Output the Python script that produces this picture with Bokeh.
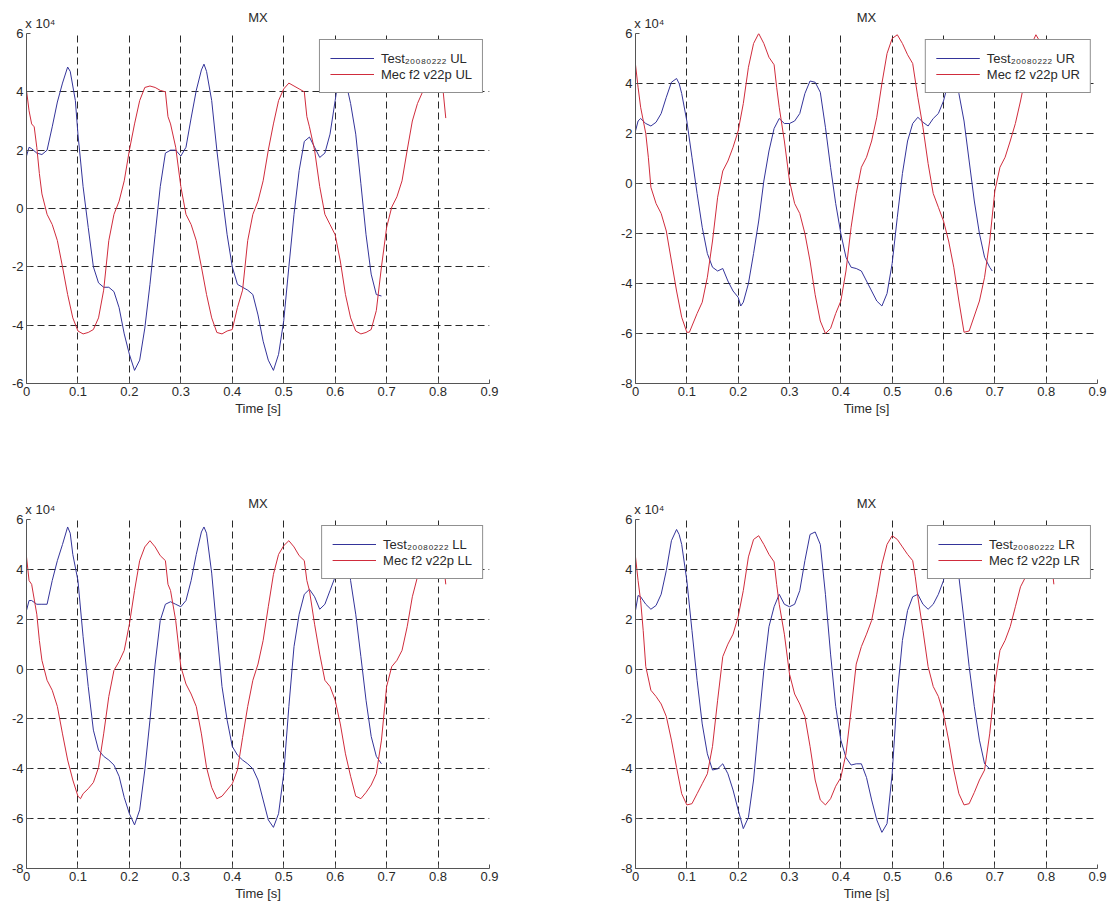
from bokeh.plotting import figure
from bokeh.models import Range1d, FixedTicker, LinearAxis
from bokeh.layouts import column, row
from bokeh.embed import file_html
from bokeh.resources import INLINE

FONT = "Liberation Sans"

# ---- tick values / labels ----
x_ticks = [0, 0.1, 0.2, 0.3, 0.4, 0.5, 0.6, 0.7, 0.8, 0.9]
x_tick_labels = ["0", "0.1", "0.2", "0.3", "0.4", "0.5", "0.6", "0.7", "0.8", "0.9"]
y_ticks_a = [-6, -4, -2, 0, 2, 4, 6]
y_ticks_b = [-8, -6, -4, -2, 0, 2, 4, 6]
title_text = "MX"
scale_text = "x 10\u2074"
x_label = "Time [s]"

# ---- data (values in units of 10^4) ----
# Upper left
ul_test_t = [0, 0.005, 0.01, 0.02, 0.03, 0.04, 0.05, 0.06, 0.07, 0.08,
             0.085, 0.095, 0.1, 0.11, 0.12, 0.13, 0.14, 0.15, 0.16, 0.17,
             0.18, 0.19, 0.2, 0.21, 0.22, 0.23, 0.24, 0.25, 0.26, 0.27,
             0.28, 0.29, 0.3, 0.31, 0.32, 0.33, 0.34, 0.345, 0.35, 0.36,
             0.37, 0.38, 0.39, 0.4, 0.41, 0.42, 0.43, 0.44, 0.45, 0.46,
             0.47, 0.48, 0.49, 0.5, 0.51, 0.52, 0.53, 0.54, 0.55, 0.56,
             0.57, 0.58, 0.59, 0.6, 0.605, 0.61, 0.618, 0.625, 0.63, 0.64,
             0.65, 0.66, 0.67, 0.68, 0.69]
ul_test_v = [1.8, 2.1, 2.05, 1.9, 1.85, 2.0, 2.8, 3.65, 4.3, 4.85,
             4.7, 3.7, 2.55, 0.75, -0.65, -2.0, -2.55, -2.7, -2.7, -2.85,
             -3.4, -4.3, -5.0, -5.55, -5.2, -4.1, -2.6, -0.9, 0.75, 1.9,
             2.0, 2.0, 1.8, 2.1, 3.1, 4.05, 4.75, 4.95, 4.7, 3.7,
             2.0, 0.5, -0.9, -2.0, -2.6, -2.7, -2.8, -2.95, -3.65, -4.55,
             -5.2, -5.55, -5.0, -3.85, -2.0, -0.2, 1.3, 2.3, 2.45, 2.1,
             1.75, 1.9, 2.55, 3.7, 4.3, 4.85, 4.6, 4.0, 3.6, 2.55,
             0.85, -0.9, -2.25, -2.95, -3.0]
ul_mec_t = [0, 0.005, 0.01, 0.015, 0.02, 0.025, 0.03, 0.04, 0.05, 0.06,
            0.07, 0.08, 0.09, 0.1, 0.11, 0.12, 0.13, 0.14, 0.15, 0.16,
            0.17, 0.18, 0.19, 0.2, 0.21, 0.22, 0.23, 0.24, 0.25, 0.26,
            0.27, 0.275, 0.28, 0.29, 0.3, 0.31, 0.32, 0.33, 0.34, 0.35,
            0.36, 0.37, 0.38, 0.39, 0.4, 0.41, 0.42, 0.43, 0.44, 0.45,
            0.46, 0.47, 0.48, 0.49, 0.5, 0.51, 0.52, 0.53, 0.54, 0.545,
            0.55, 0.56, 0.57, 0.58, 0.59, 0.6, 0.61, 0.62, 0.63, 0.64,
            0.65, 0.66, 0.67, 0.68, 0.69, 0.7, 0.71, 0.72, 0.73, 0.74,
            0.75, 0.76, 0.77, 0.78, 0.79, 0.8, 0.81, 0.815]
ul_mec_v = [4.05, 3.35, 2.9, 2.8, 2.1, 1.2, 0.5, -0.2, -0.55, -1.1,
            -2.0, -2.95, -3.75, -4.2, -4.3, -4.25, -4.15, -3.75, -2.8, -1.1,
            -0.2, 0.25, 0.95, 2.0, 2.9, 3.7, 4.15, 4.2, 4.15, 4.05,
            4.0, 3.15, 2.9, 2.1, 0.75, -0.2, -0.55, -1.1, -2.0, -2.95,
            -3.75, -4.25, -4.3, -4.2, -4.15, -3.4, -2.8, -1.1, -0.2, 0.25,
            0.95, 2.0, 2.9, 3.7, 4.1, 4.3, 4.2, 4.1, 4.0, 3.15,
            2.8, 2.0, 0.75, -0.2, -0.55, -0.9, -1.8, -2.95, -3.75, -4.2,
            -4.3, -4.25, -4.15, -3.5, -2.0, -0.65, 0.05, 0.4, 0.95, 2.0,
            3.0, 3.6, 4.0, 4.2, 4.2, 4.1, 4.0, 3.1]

# Upper right
ur_test_t = [0, 0.005, 0.01, 0.02, 0.03, 0.04, 0.05, 0.06, 0.07, 0.08,
             0.085, 0.09, 0.1, 0.11, 0.12, 0.13, 0.14, 0.15, 0.16, 0.17,
             0.18, 0.19, 0.2, 0.205, 0.21, 0.22, 0.23, 0.24, 0.25, 0.26,
             0.27, 0.28, 0.29, 0.3, 0.31, 0.32, 0.33, 0.34, 0.35, 0.36,
             0.37, 0.38, 0.39, 0.4, 0.41, 0.42, 0.43, 0.44, 0.45, 0.46,
             0.47, 0.48, 0.49, 0.5, 0.51, 0.52, 0.53, 0.54, 0.55, 0.56,
             0.57, 0.58, 0.59, 0.6, 0.605, 0.612, 0.62, 0.625, 0.63, 0.64,
             0.65, 0.66, 0.67, 0.68, 0.69, 0.695]
ur_test_v = [2.1, 2.5, 2.6, 2.4, 2.3, 2.45, 2.8, 3.45, 4.05, 4.2,
             4.0, 3.6, 2.5, 1.05, -0.4, -1.75, -2.8, -3.35, -3.5, -3.4,
             -3.9, -4.3, -4.55, -4.9, -4.75, -4.0, -2.8, -1.5, 0.1, 1.3,
             2.2, 2.6, 2.4, 2.4, 2.5, 2.8, 3.6, 4.1, 4.05, 3.65,
             2.25, 0.65, -0.8, -2.0, -2.95, -3.35, -3.4, -3.5, -3.9, -4.3,
             -4.7, -4.9, -4.4, -3.2, -1.35, 0.4, 1.7, 2.4, 2.65, 2.45,
             2.3, 2.6, 2.8, 3.3, 3.7, 4.05, 4.1, 3.9, 3.6, 2.5,
             0.9, -0.7, -2.0, -2.95, -3.35, -3.5]
ur_mec_t = [0, 0.005, 0.01, 0.02, 0.025, 0.03, 0.04, 0.05, 0.06, 0.07,
            0.08, 0.09, 0.1, 0.105, 0.11, 0.12, 0.13, 0.14, 0.15, 0.16,
            0.17, 0.18, 0.19, 0.2, 0.21, 0.22, 0.23, 0.24, 0.25, 0.26,
            0.27, 0.275, 0.28, 0.29, 0.3, 0.31, 0.32, 0.33, 0.34, 0.35,
            0.36, 0.37, 0.38, 0.39, 0.4, 0.41, 0.42, 0.43, 0.44, 0.45,
            0.46, 0.47, 0.48, 0.49, 0.5, 0.51, 0.52, 0.53, 0.54, 0.55,
            0.56, 0.57, 0.58, 0.59, 0.6, 0.61, 0.62, 0.63, 0.64, 0.65,
            0.66, 0.67, 0.68, 0.69, 0.7, 0.71, 0.72, 0.73, 0.74, 0.75,
            0.76, 0.77, 0.78, 0.79, 0.8, 0.81, 0.815]
ur_mec_v = [4.75, 3.85, 3.05, 2.0, 1.05, -0.15, -0.8, -1.2, -1.9, -3.1,
            -4.3, -5.35, -5.95, -5.95, -5.7, -5.2, -4.75, -3.75, -2.3, -0.55,
            0.5, 0.9, 1.45, 2.1, 3.2, 4.65, 5.6, 6.0, 5.6, 5.05,
            4.75, 3.85, 3.05, 1.7, 0.1, -0.8, -1.2, -2.0, -3.1, -4.45,
            -5.5, -6.0, -5.8, -5.2, -4.7, -3.5, -1.75, -0.4, 0.65, 1.05,
            1.7, 2.65, 4.0, 5.2, 5.8, 5.95, 5.6, 5.15, 4.8, 3.45,
            2.25, 0.8, -0.4, -0.95, -1.5, -2.3, -3.35, -4.7, -5.95, -5.9,
            -5.3, -4.7, -3.75, -2.3, -0.3, 0.65, 1.05, 1.7, 2.4, 3.3,
            4.3, 5.5, 5.95, 5.6, 5.05, 4.75, 3.85]

# Lower left
ll_test_t = [0, 0.005, 0.01, 0.02, 0.03, 0.04, 0.05, 0.06, 0.07, 0.08,
             0.085, 0.09, 0.1, 0.11, 0.12, 0.13, 0.14, 0.15, 0.16, 0.17,
             0.18, 0.19, 0.2, 0.21, 0.22, 0.23, 0.24, 0.25, 0.26, 0.27,
             0.28, 0.29, 0.3, 0.31, 0.32, 0.33, 0.34, 0.345, 0.35, 0.36,
             0.37, 0.38, 0.39, 0.4, 0.41, 0.42, 0.43, 0.44, 0.45, 0.46,
             0.47, 0.48, 0.49, 0.5, 0.51, 0.52, 0.53, 0.54, 0.55, 0.56,
             0.57, 0.58, 0.59, 0.6, 0.607, 0.614, 0.62, 0.63, 0.64, 0.65,
             0.66, 0.67, 0.68, 0.69]
ll_test_v = [2.35, 2.75, 2.75, 2.6, 2.6, 2.6, 3.55, 4.35, 5.0, 5.7,
             5.45, 4.6, 3.55, 1.3, -0.7, -2.45, -3.25, -3.5, -3.65, -3.85,
             -4.3, -5.15, -5.8, -6.25, -5.65, -4.05, -2.05, 0.2, 1.95, 2.6,
             2.7, 2.6, 2.5, 2.75, 3.55, 4.6, 5.5, 5.7, 5.45, 3.85,
             1.55, -0.7, -2.05, -3.1, -3.45, -3.65, -3.8, -4.0, -4.45, -5.25,
             -6.05, -6.35, -5.8, -4.2, -1.5, 0.9, 2.2, 3.0, 3.2, 2.9,
             2.4, 2.6, 3.15, 3.7, 4.8, 5.6, 5.3, 3.55, 2.2, 0.5,
             -1.25, -2.7, -3.5, -3.8]
ll_mec_t = [0, 0.005, 0.01, 0.02, 0.025, 0.03, 0.04, 0.05, 0.06, 0.07,
            0.08, 0.09, 0.1, 0.105, 0.11, 0.12, 0.13, 0.14, 0.15, 0.16,
            0.17, 0.18, 0.19, 0.2, 0.21, 0.22, 0.23, 0.24, 0.25, 0.26,
            0.27, 0.275, 0.28, 0.29, 0.3, 0.31, 0.32, 0.33, 0.34, 0.35,
            0.36, 0.37, 0.38, 0.39, 0.4, 0.41, 0.42, 0.43, 0.44, 0.45,
            0.46, 0.47, 0.48, 0.49, 0.5, 0.51, 0.52, 0.53, 0.54, 0.545,
            0.55, 0.56, 0.57, 0.58, 0.59, 0.6, 0.61, 0.62, 0.63, 0.64,
            0.65, 0.66, 0.67, 0.68, 0.69, 0.7, 0.71, 0.72, 0.73, 0.74,
            0.75, 0.76, 0.77, 0.78, 0.79, 0.8, 0.81, 0.815]
ll_mec_v = [4.5, 3.55, 3.4, 2.2, 1.15, 0.35, -0.45, -0.85, -1.5, -2.6,
            -3.65, -4.45, -5.1, -5.2, -5.0, -4.8, -4.55, -3.95, -2.6, -1.1,
            -0.05, 0.3, 0.75, 1.8, 3.15, 4.35, 4.9, 5.15, 4.9, 4.55,
            4.35, 3.4, 3.15, 1.95, 0.1, -0.6, -1.0, -1.5, -2.6, -3.95,
            -4.75, -5.2, -5.1, -4.85, -4.6, -4.05, -2.75, -1.5, -0.45, 0.2,
            1.15, 2.5, 3.8, 4.6, 4.95, 5.15, 4.9, 4.55, 4.35, 3.55,
            3.15, 1.8, 0.6, -0.45, -0.7, -1.25, -2.2, -3.4, -4.3, -5.1,
            -5.2, -4.95, -4.65, -4.2, -2.85, -0.7, 0.1, 0.35, 0.75, 1.7,
            2.9, 3.7, 4.5, 5.0, 5.1, 4.85, 4.4, 3.4]

# Lower right
lr_test_t = [0, 0.005, 0.01, 0.02, 0.03, 0.04, 0.05, 0.06, 0.07, 0.08,
             0.085, 0.09, 0.1, 0.11, 0.12, 0.13, 0.14, 0.15, 0.16, 0.17,
             0.18, 0.19, 0.2, 0.21, 0.22, 0.23, 0.24, 0.25, 0.26, 0.27,
             0.28, 0.29, 0.3, 0.31, 0.32, 0.33, 0.34, 0.35, 0.36, 0.37,
             0.38, 0.39, 0.4, 0.41, 0.42, 0.43, 0.44, 0.45, 0.46, 0.47,
             0.48, 0.49, 0.5, 0.51, 0.52, 0.53, 0.54, 0.55, 0.56, 0.57,
             0.58, 0.59, 0.6, 0.61, 0.615, 0.62, 0.63, 0.64, 0.65, 0.66,
             0.67, 0.68, 0.69]
lr_test_v = [2.35, 2.95, 2.9, 2.6, 2.4, 2.55, 3.0, 3.95, 5.15, 5.6,
             5.4, 5.0, 3.55, 1.55, -0.45, -2.2, -3.4, -4.05, -4.0, -3.8,
             -4.2, -4.85, -5.65, -6.4, -5.95, -4.45, -2.2, -0.05, 1.7, 2.5,
             3.0, 2.6, 2.5, 2.6, 3.15, 4.35, 5.4, 5.5, 5.0, 3.0,
             0.6, -1.5, -2.85, -3.55, -3.85, -3.8, -3.8, -4.35, -5.25, -6.05,
             -6.55, -6.2, -4.2, -1.0, 1.15, 2.35, 2.9, 3.0, 2.6, 2.4,
             2.6, 3.0, 3.55, 5.0, 5.5, 5.2, 3.7, 1.95, 0.1, -1.5,
             -2.85, -3.8, -4.0]
lr_mec_t = [0, 0.005, 0.01, 0.015, 0.02, 0.03, 0.04, 0.05, 0.06, 0.07,
            0.08, 0.09, 0.1, 0.11, 0.12, 0.13, 0.14, 0.15, 0.16, 0.17,
            0.18, 0.19, 0.2, 0.21, 0.22, 0.23, 0.24, 0.25, 0.26, 0.27,
            0.275, 0.28, 0.29, 0.3, 0.31, 0.32, 0.33, 0.34, 0.35, 0.36,
            0.37, 0.38, 0.39, 0.4, 0.41, 0.42, 0.43, 0.44, 0.45, 0.46,
            0.47, 0.48, 0.49, 0.5, 0.51, 0.52, 0.53, 0.54, 0.545, 0.55,
            0.56, 0.57, 0.58, 0.59, 0.6, 0.61, 0.62, 0.63, 0.64, 0.65,
            0.66, 0.67, 0.68, 0.69, 0.7, 0.71, 0.72, 0.73, 0.74, 0.75,
            0.76, 0.77, 0.78, 0.79, 0.8, 0.81, 0.815]
lr_mec_v = [4.5, 3.55, 2.75, 1.55, 0.1, -0.85, -1.1, -1.4, -1.9, -2.85,
            -3.95, -5.0, -5.45, -5.4, -5.0, -4.6, -4.2, -3.1, -1.25, 0.5,
            1.0, 1.4, 2.1, 3.15, 4.5, 5.2, 5.35, 5.0, 4.6, 4.3,
            3.4, 2.6, 1.4, -0.2, -1.0, -1.4, -1.9, -3.1, -4.45, -5.25,
            -5.45, -5.2, -4.7, -4.35, -3.4, -1.65, 0.2, 0.9, 1.4, 1.95,
            3.0, 4.2, 5.0, 5.35, 5.2, 4.9, 4.6, 4.35, 3.7, 2.9,
            1.55, 0.1, -0.7, -1.1, -1.8, -2.85, -4.05, -5.0, -5.45, -5.4,
            -4.95, -4.45, -4.05, -2.6, -0.6, 0.75, 1.15, 1.7, 2.5, 3.3,
            3.7, 4.6, 5.2, 5.3, 5.0, 4.35, 3.4]

BLUE = "#34349a"
RED = "#d02c3c"
AXIS = "#555555"
TXT = "#2a2a2a"
SCALE_POS = 0.027   # horizontal placement of the "x 10^4" note (style)


def make_panel(tag, test_t, test_v, mec_t, mec_v, y_ticks, width, height,
               bl, br, bt, bb):
    ymin, ymax = y_ticks[0], y_ticks[-1]
    p = figure(width=width, height=height,
               x_range=Range1d(0, 0.9), y_range=Range1d(ymin, ymax),
               output_backend="svg", toolbar_location=None,
               min_border_left=bl, min_border_right=br,
               min_border_top=bt, min_border_bottom=bb)
    p.outline_line_color = None
    p.background_fill_color = "white"
    p.border_fill_color = "white"

    p.line(test_t, test_v, line_color=BLUE, line_width=1,
           legend_label="Test\u2082\u2080\u2080\u2088\u2080\u2082\u2082\u2082 " + tag)
    p.line(mec_t, mec_v, line_color=RED, line_width=1,
           legend_label="Mec f2 v22p " + tag)

    p.xaxis.ticker = FixedTicker(ticks=x_ticks)
    p.xaxis.major_label_overrides = dict(zip(x_ticks, x_tick_labels))
    p.yaxis.ticker = FixedTicker(ticks=y_ticks)
    p.yaxis.major_label_overrides = {v: str(v) for v in y_ticks}
    p.xaxis.axis_label = x_label

    for ax in (p.xaxis[0], p.yaxis[0]):
        ax.axis_line_color = AXIS
        ax.major_tick_line_color = AXIS
        ax.major_tick_in = 4
        ax.major_tick_out = 0
        ax.minor_tick_line_color = None
        ax.major_label_text_font = FONT
        ax.major_label_text_font_size = "13px"
        ax.major_label_text_color = TXT
        ax.major_label_standoff = 3
        ax.axis_label_text_font = FONT
        ax.axis_label_text_font_size = "13px"
        ax.axis_label_text_font_style = "normal"
        ax.axis_label_text_color = TXT
        ax.axis_label_standoff = 2

    # top: scale note as a tick label, title as the axis label
    top = LinearAxis(ticker=FixedTicker(ticks=[SCALE_POS]),
                     major_label_overrides={SCALE_POS: scale_text},
                     axis_label=title_text)
    top.axis_line_color = None
    top.major_tick_line_color = None
    top.minor_tick_line_color = None
    top.major_tick_in = 0
    top.major_tick_out = 0
    top.major_label_text_font = FONT
    top.major_label_text_font_size = "13px"
    top.major_label_text_color = TXT
    top.major_label_standoff = 3
    top.axis_label_text_font = FONT
    top.axis_label_text_font_size = "13px"
    top.axis_label_text_font_style = "normal"
    top.axis_label_text_color = TXT
    top.axis_label_standoff = -12
    p.add_layout(top, "above")

    p.grid.grid_line_color = "#2a2a2a"
    p.grid.grid_line_dash = "7 4"
    p.grid.grid_line_width = 1

    lg = p.legend[0]
    lg.location = "top_right"
    lg.margin = 6
    lg.padding = 10
    lg.spacing = 0
    lg.glyph_width = 44
    lg.glyph_height = 16
    lg.label_height = 16
    lg.label_standoff = 7
    lg.label_text_font = FONT
    lg.label_text_font_size = "13px"
    lg.label_text_color = TXT
    lg.border_line_color = "#222222"
    lg.border_line_width = 1
    lg.background_fill_color = "white"
    lg.background_fill_alpha = 1.0
    return p


p_ul = make_panel("UL", ul_test_t, ul_test_v, ul_mec_t, ul_mec_v, y_ticks_a,
                  599, 443, 26, 110, 33, 60)
p_ur = make_panel("UR", ur_test_t, ur_test_v, ur_mec_t, ur_mec_v, y_ticks_b,
                  508, 443, 36, 10, 33, 60)
p_ll = make_panel("LL", ll_test_t, ll_test_v, ll_mec_t, ll_mec_v, y_ticks_b,
                  599, 461, 26, 110, 76, 36)
p_lr = make_panel("LR", lr_test_t, lr_test_v, lr_mec_t, lr_mec_v, y_ticks_b,
                  508, 461, 36, 10, 76, 36)

layout = column(row(p_ul, p_ur), row(p_ll, p_lr))

open("out.html", "w").write(file_html(layout, INLINE))
